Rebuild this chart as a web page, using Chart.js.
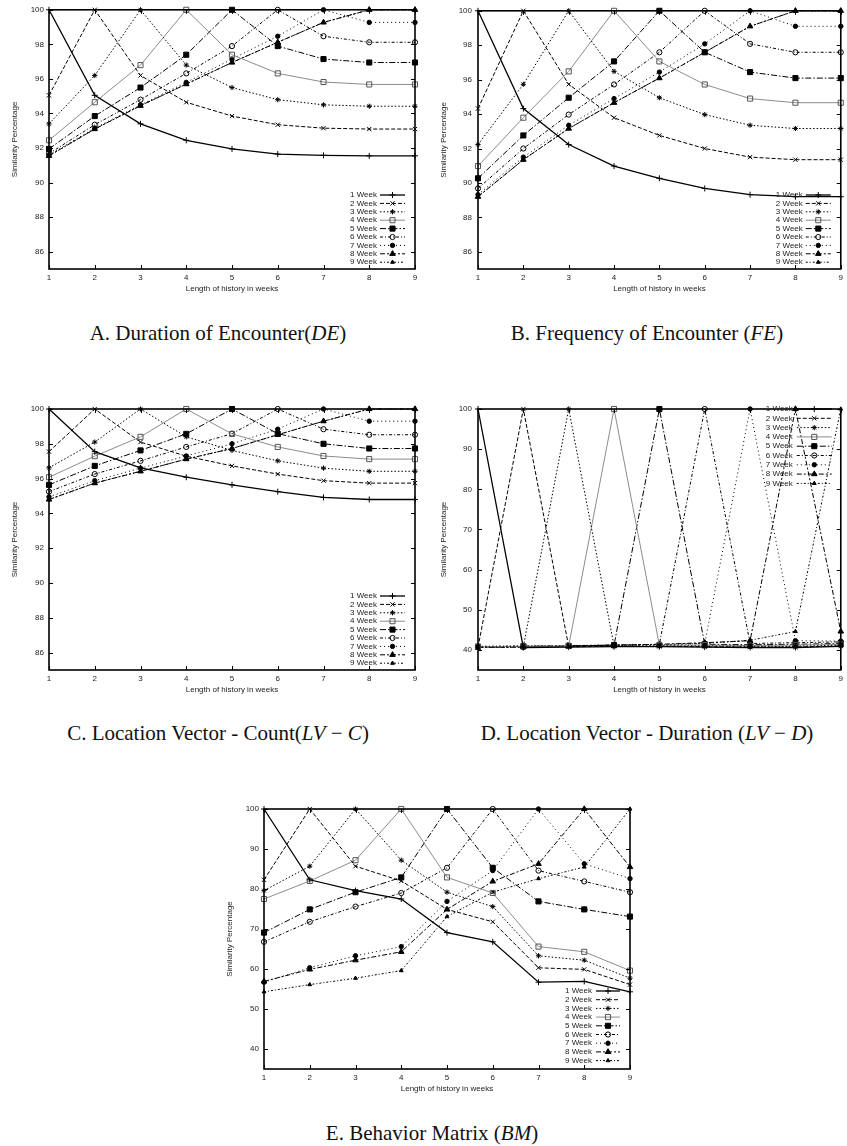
<!DOCTYPE html>
<html>
<head>
<meta charset="utf-8">
<script src="https://cdn.jsdelivr.net/npm/chart.js@4.4.1/dist/chart.umd.min.js"></script>
<style>
  body { margin: 0; background: #fff; width: 847px; height: 1146px; position: relative; overflow: hidden; }
  canvas { position: absolute; }
  .cap { position: absolute; font-family: 'Liberation Serif', 'Times New Roman', serif; font-size: 21px; color: #111;
         white-space: nowrap; transform: translate(-50%, -50%); }
  .cap i { font-style: italic; }
</style>
</head>
<body>
<canvas id="cA"></canvas>
<canvas id="cB"></canvas>
<canvas id="cC"></canvas>
<canvas id="cD"></canvas>
<canvas id="cE"></canvas>
<div class="cap" style="left:218px;top:333px">A. Duration of Encounter(<i>DE</i>)</div>
<div class="cap" style="left:647px;top:333px">B. Frequency of Encounter (<i>FE</i>)</div>
<div class="cap" style="left:218px;top:733px">C. Location Vector - Count(<i>LV</i> &minus; <i>C</i>)</div>
<div class="cap" style="left:647px;top:733px">D. Location Vector - Duration (<i>LV</i> &minus; <i>D</i>)</div>
<div class="cap" style="left:432px;top:1133px">E. Behavior Matrix (<i>BM</i>)</div>
<script>
const weeks = ['1', '2', '3', '4', '5', '6', '7', '8', '9'];
const seriesNames = ['1 Week', '2 Week', '3 Week', '4 Week', '5 Week', '6 Week', '7 Week', '8 Week', '9 Week'];
const yTicksFine = [86, 88, 90, 92, 94, 96, 98, 100];
const yTicksWide = [40, 50, 60, 70, 80, 90, 100];

// A. Duration of Encounter
const durationRows = [
  [100, 95.05, 93.4, 92.45, 91.95, 91.65, 91.58, 91.55, 91.55],
  [95.05, 100, 96.2, 94.65, 93.85, 93.35, 93.15, 93.1, 93.1],
  [93.4, 96.2, 100, 96.8, 95.5, 94.8, 94.5, 94.42, 94.42],
  [92.45, 94.65, 96.8, 100, 97.4, 96.32, 95.82, 95.68, 95.68],
  [91.95, 93.85, 95.5, 97.4, 100, 97.9, 97.15, 96.95, 96.95],
  [91.68, 93.35, 94.8, 96.32, 97.9, 100, 98.47, 98.12, 98.12],
  [91.6, 93.15, 94.5, 95.8, 97.15, 98.47, 100, 99.27, 99.27],
  [91.55, 93.1, 94.45, 95.7, 96.95, 98.12, 99.27, 100, 100],
  [91.55, 93.1, 94.45, 95.7, 96.95, 98.12, 99.27, 100, 100]
];
// B. Frequency of Encounter
const frequencyRows = [
  [100, 94.32, 92.23, 90.98, 90.27, 89.68, 89.32, 89.2, 89.2],
  [94.32, 100, 95.73, 93.79, 92.76, 92.0, 91.5, 91.35, 91.35],
  [92.23, 95.73, 100, 96.48, 94.95, 93.97, 93.35, 93.16, 93.16],
  [90.98, 93.79, 96.48, 100, 97.06, 95.72, 94.9, 94.66, 94.66],
  [90.27, 92.76, 94.95, 97.06, 100, 97.59, 96.44, 96.09, 96.09],
  [89.68, 92.0, 93.97, 95.72, 97.59, 100, 98.08, 97.59, 97.59],
  [89.32, 91.5, 93.35, 94.9, 96.44, 98.08, 100, 99.1, 99.1],
  [89.2, 91.35, 93.16, 94.66, 96.09, 97.59, 99.1, 100, 100],
  [89.2, 91.35, 93.16, 94.66, 96.09, 97.59, 99.1, 100, 100]
];
// C. Location Vector - Count
const locCountRows = [
  [100, 97.55, 96.62, 96.08, 95.64, 95.25, 94.92, 94.8, 94.8],
  [97.55, 100, 98.1, 97.29, 96.73, 96.26, 95.88, 95.74, 95.74],
  [96.62, 98.1, 100, 98.4, 97.62, 97.02, 96.6, 96.42, 96.42],
  [96.08, 97.29, 98.4, 100, 98.57, 97.82, 97.3, 97.12, 97.12],
  [95.64, 96.73, 97.62, 98.57, 100, 98.58, 98.0, 97.73, 97.73],
  [95.25, 96.26, 97.02, 97.82, 98.58, 100, 98.84, 98.52, 98.52],
  [94.95, 95.88, 96.6, 97.3, 98.0, 98.84, 100, 99.3, 99.3],
  [94.8, 95.74, 96.42, 97.12, 97.73, 98.52, 99.3, 100, 100],
  [94.8, 95.74, 96.42, 97.12, 97.73, 98.52, 99.3, 100, 100]
];
// D. Location Vector - Duration
const locDurationRows = [
  [100, 40.6, 40.7, 40.8, 40.8, 40.7, 40.6, 40.6, 40.9],
  [40.6, 100, 40.8, 40.9, 40.9, 40.8, 40.7, 40.7, 41.0],
  [40.7, 40.8, 100, 41.0, 41.0, 41.0, 40.9, 40.9, 41.2],
  [40.8, 40.9, 41.0, 100, 41.2, 41.2, 41.1, 41.2, 41.4],
  [40.8, 40.9, 41.0, 41.2, 100, 41.4, 41.3, 41.4, 41.6],
  [40.7, 40.8, 41.0, 41.2, 41.4, 100, 41.6, 41.8, 42.0],
  [40.6, 40.7, 40.9, 41.1, 41.3, 41.6, 100, 42.3, 42.2],
  [40.6, 40.7, 40.9, 41.2, 41.4, 41.8, 42.3, 100, 44.6],
  [40.9, 41.0, 41.1, 41.2, 41.3, 41.6, 42.4, 44.6, 100]
];
// E. Behavior Matrix
const behaviorRows = [
  [100, 82.3, 79.6, 77.5, 69.1, 66.8, 56.7, 56.9, 54.3],
  [82.3, 100, 85.7, 82.0, 74.9, 71.8, 60.3, 59.9, 56.1],
  [79.6, 85.7, 100, 87.2, 79.2, 75.6, 63.3, 62.2, 57.7],
  [77.5, 82.0, 87.2, 100, 82.9, 79.0, 65.6, 64.3, 59.6],
  [69.1, 74.9, 79.2, 82.9, 100, 85.3, 76.9, 74.9, 73.1],
  [66.8, 71.8, 75.6, 79.0, 85.3, 100, 84.6, 81.9, 79.2],
  [56.7, 60.3, 63.3, 65.6, 76.9, 84.6, 100, 86.3, 82.6],
  [56.9, 59.9, 62.2, 64.3, 74.9, 81.9, 86.3, 100, 85.5],
  [54.3, 56.1, 57.7, 59.6, 73.1, 79.2, 82.6, 85.5, 100]
];

// gnuplot-like line / point styles, one per series
const seriesStyle = [
  { color: '#000', dash: [], width: 1.3, point: 'cross', fill: false, r: 3 },
  { color: '#000', dash: [4, 2], width: 1, point: 'crossRot', fill: false, r: 3 },
  { color: '#000', dash: [1.5, 2], width: 1, point: 'star', fill: true, r: 2.6 },
  { color: '#8c8c8c', dash: [], width: 1, point: 'rect', fill: false, r: 3.6 },
  { color: '#000', dash: [6, 2, 1.5, 2], width: 1, point: 'rect', fill: true, r: 3.6 },
  { color: '#000', dash: [3, 2, 1, 2], width: 1, point: 'circle', fill: false, r: 2.6 },
  { color: '#000', dash: [1, 3], width: 1, point: 'circle', fill: true, r: 2.2 },
  { color: '#000', dash: [5, 2, 2, 2], width: 1, point: 'triangle', fill: true, r: 3.2 },
  { color: '#000', dash: [2, 2, 1, 2], width: 1, point: 'triangle', fill: true, r: 2.2 }
];

const textFont = { family: "'Liberation Sans', Arial, sans-serif", size: 8 };

// frame, inward ticks (with mirror) and the boxed-less gnuplot key
const gnuplotPlugin = {
  id: 'gnuplotLook',
  afterDatasetsDraw(chart, args, o) {
    const ctx = chart.ctx, a = chart.chartArea;
    const xs = chart.scales.x, ys = chart.scales.y;
    ctx.save();
    ctx.strokeStyle = '#000';
    ctx.lineWidth = 1;
    ctx.setLineDash([]);
    ctx.beginPath();
    ys.ticks.forEach(t => {
      const py = Math.round(ys.getPixelForValue(t.value)) + 0.5;
      ctx.moveTo(a.left, py); ctx.lineTo(a.left + 4, py);
      ctx.moveTo(a.right - 4, py); ctx.lineTo(a.right, py);
    });
    xs.ticks.forEach((t, i) => {
      const px = Math.round(xs.getPixelForTick(i)) + 0.5;
      ctx.moveTo(px, a.bottom); ctx.lineTo(px, a.bottom - 4);
      ctx.moveTo(px, a.top); ctx.lineTo(px, a.top + 4);
    });
    ctx.stroke();
    ctx.lineWidth = 1.6;
    ctx.strokeRect(a.left, a.top, a.right - a.left, a.bottom - a.top);

    // key
    ctx.font = textFont.size + 'px ' + textFont.family;
    ctx.textAlign = 'right';
    ctx.textBaseline = 'middle';
    chart.data.datasets.forEach((ds, i) => {
      const y = (o.anchor === 'top' ? a.top : a.bottom) + o.first + i * o.gap;
      ctx.fillStyle = '#222';
      ctx.fillText(ds.label, a.right - o.textRight, y);
      ctx.strokeStyle = ds.borderColor;
      ctx.lineWidth = ds.borderWidth;
      ctx.setLineDash(ds.borderDash);
      ctx.beginPath();
      ctx.moveTo(a.right - o.sampleFrom, y);
      ctx.lineTo(a.right - o.sampleTo, y);
      ctx.stroke();
      ctx.setLineDash([]);
      if (Chart.helpers && Chart.helpers.drawPoint) {
        ctx.fillStyle = ds.pointBackgroundColor;
        ctx.strokeStyle = ds.pointBorderColor;
        ctx.lineWidth = 1;
        Chart.helpers.drawPoint(ctx, { pointStyle: ds.pointStyle, radius: ds.pointRadius, borderWidth: 1, rotation: 0 },
          a.right - (o.sampleFrom + o.sampleTo) / 2, y);
      }
    });
    ctx.restore();
  }
};

function buildDatasets(rows) {
  return rows.map((vals, i) => {
    const s = seriesStyle[i];
    return {
      label: seriesNames[i],
      data: vals,
      borderColor: s.color,
      borderWidth: s.width,
      borderDash: s.dash,
      pointStyle: s.point,
      pointRadius: s.r,
      pointHoverRadius: s.r,
      pointBorderWidth: 1,
      pointBorderColor: s.color === '#8c8c8c' ? '#555' : '#000',
      pointBackgroundColor: s.fill ? '#000' : 'rgba(255,255,255,0)',
      tension: 0,
      fill: false,
      clip: 8
    };
  });
}

function makeChart(cfg) {
  const canvas = document.getElementById(cfg.id);
  const h = cfg.area.b + 31;
  canvas.width = cfg.w; canvas.height = h;
  canvas.style.left = cfg.left + 'px'; canvas.style.top = cfg.top + 'px';
  canvas.style.width = cfg.w + 'px'; canvas.style.height = h + 'px';
  return new Chart(canvas.getContext('2d'), {
    type: 'line',
    data: { labels: weeks, datasets: buildDatasets(cfg.rows) },
    plugins: [gnuplotPlugin],
    options: {
      responsive: false,
      animation: false,
      devicePixelRatio: 1,
      layout: { padding: { top: cfg.area.t, right: cfg.w - cfg.area.r, left: 0, bottom: 0 } },
      plugins: {
        legend: { display: false },
        tooltip: { enabled: false },
        gnuplotLook: cfg.key
      },
      scales: {
        x: {
          type: 'category',
          offset: false,
          grid: { display: false, drawTicks: false },
          border: { display: false },
          ticks: { font: textFont, color: '#222', padding: 4, autoSkip: false, maxRotation: 0 },
          title: { display: true, text: 'Length of history in weeks', font: textFont, color: '#222', padding: { top: 0, bottom: 6 } },
          afterFit: (s) => { s.height = h - cfg.area.b; }
        },
        y: {
          type: 'linear',
          min: cfg.yMin,
          max: 100,
          grid: { display: false, drawTicks: false },
          border: { display: false },
          afterBuildTicks: (s) => { s.ticks = cfg.yTicks.map(v => ({ value: v })); },
          ticks: { font: textFont, color: '#222', padding: cfg.tickPad },
          title: { display: true, text: 'Similarity Percentage', font: textFont, color: '#222', padding: { top: cfg.titlePad, bottom: 0 } },
          afterFit: (s) => { s.width = cfg.area.l; }
        }
      }
    }
  });
}

const bottomKey = { anchor: 'bottom', first: -74, gap: 8.4, textRight: 38, sampleFrom: 35, sampleTo: 10 };

makeChart({ id: 'cA', left: 0, top: 0, w: 424, area: { l: 49, t: 9, r: 415, b: 269 }, rows: durationRows,
  yMin: 85, yTicks: yTicksFine, tickPad: 5, titlePad: 10, key: bottomKey });
makeChart({ id: 'cB', left: 424, top: 0, w: 423, area: { l: 54, t: 9, r: 420, b: 269 }, rows: frequencyRows,
  yMin: 85, yTicks: yTicksFine, tickPad: 6, titlePad: 15, key: bottomKey });
makeChart({ id: 'cC', left: 0, top: 395, w: 424, area: { l: 49, t: 14, r: 415, b: 275 }, rows: locCountRows,
  yMin: 85, yTicks: yTicksFine, tickPad: 5, titlePad: 10, key: bottomKey });
makeChart({ id: 'cD', left: 424, top: 395, w: 423, area: { l: 54, t: 14, r: 420, b: 275 }, rows: locDurationRows,
  yMin: 35, yTicks: yTicksWide, tickPad: 6, titlePad: 15,
  key: { anchor: 'top', first: 0, gap: 9.3, textRight: 48, sampleFrom: 44, sampleTo: 9 } });
makeChart({ id: 'cE', left: 215, top: 790, w: 424, area: { l: 49, t: 19, r: 415, b: 279 }, rows: behaviorRows,
  yMin: 35, yTicks: yTicksWide, tickPad: 5, titlePad: 10,
  key: { anchor: 'bottom', first: -78, gap: 8.7, textRight: 38, sampleFrom: 34, sampleTo: 10 } });
</script>
</body>
</html>
